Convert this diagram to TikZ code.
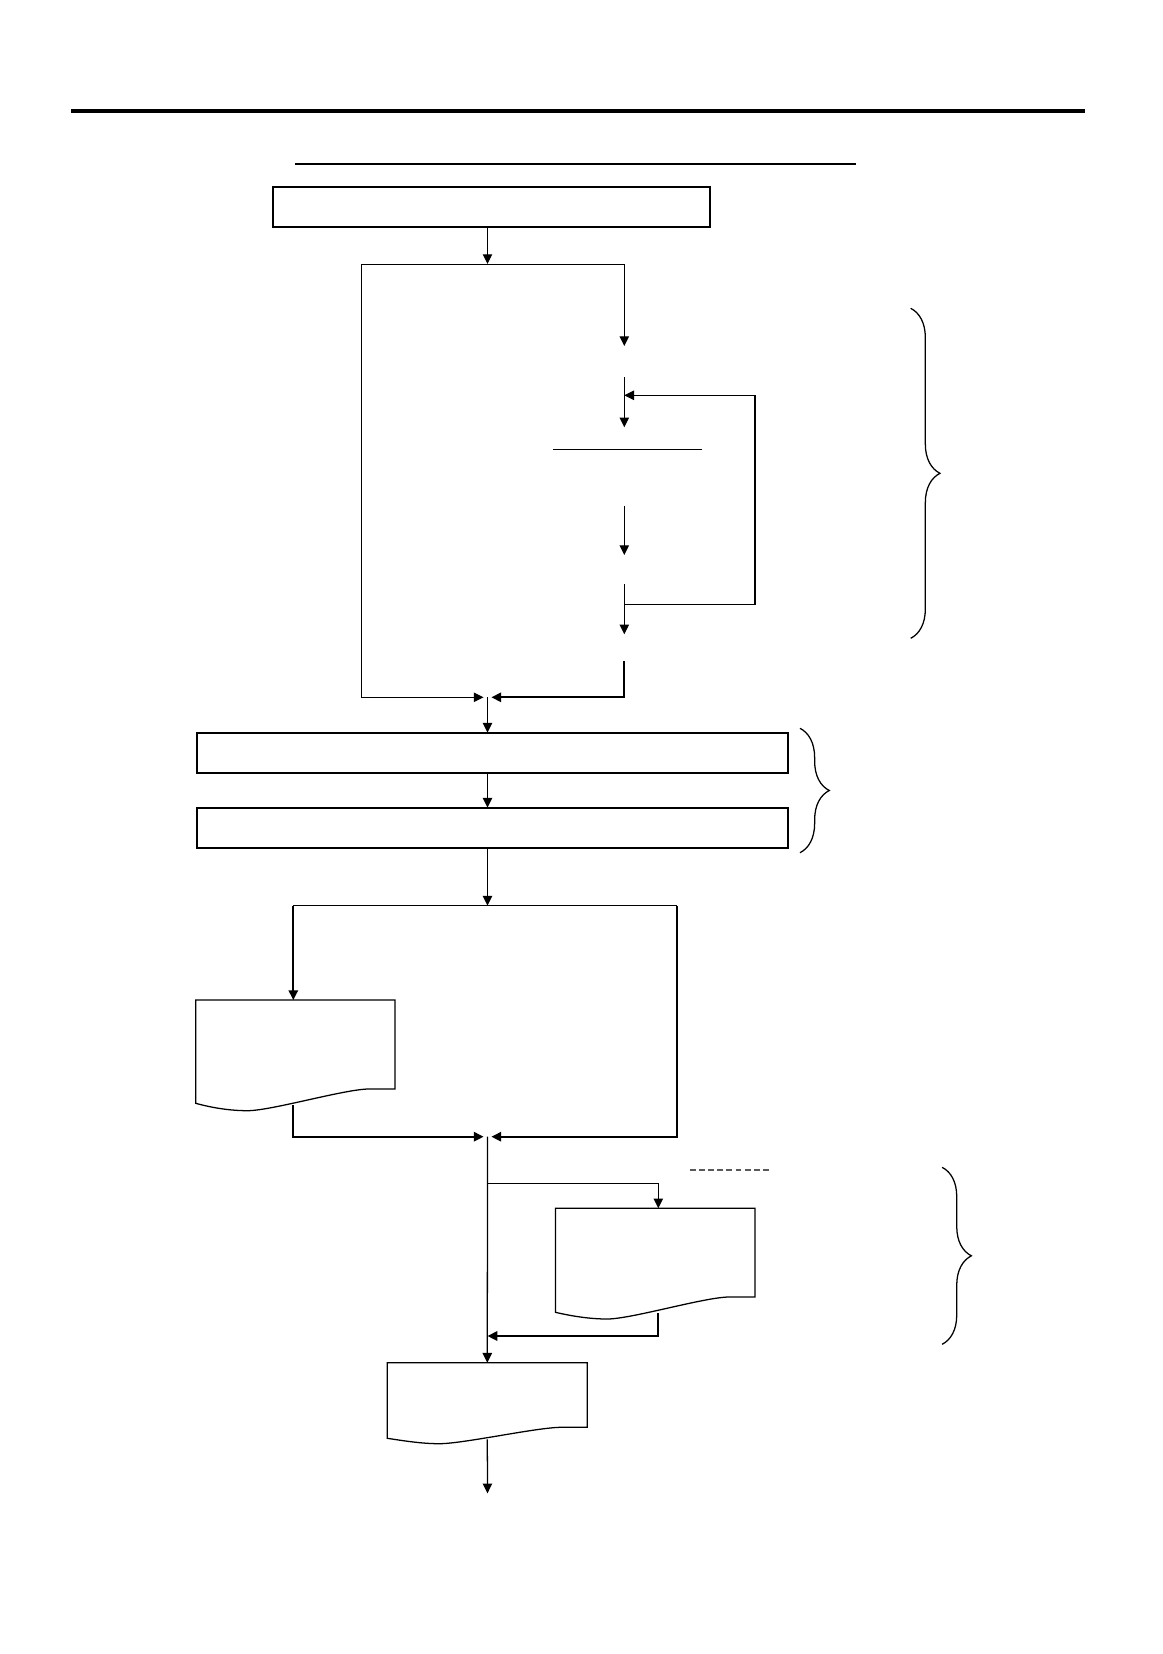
\documentclass[tikz,border=0pt]{standalone}
\usepackage{tikz}
\usetikzlibrary{positioning,arrows.meta,calc,decorations.pathreplacing}

% document symbol round a node: #1 node, #2 drop of the left corner, #3 lowest point of the wave
\newcommand{\docoutline}[3]{%
  \draw[line width=0.65pt] (#1.south east) -- (#1.north east) -- (#1.north west)
    -- ($(#1.south west)+(0,#2)$)
    .. controls ($(#1.south west)!0.08!(#1.south east)+(0,{#3-3})$) and ($(#1.south west)!0.17!(#1.south east)+(0,#3)$)
    .. ($(#1.south west)!0.26!(#1.south east)+(0,#3)$)
    .. controls ($(#1.south west)!0.38!(#1.south east)+(0,#3)$) and ($(#1.south west)!0.75!(#1.south east)$)
    .. ($(#1.south west)!0.87!(#1.south east)$) -- cycle;}

\begin{document}
\begin{tikzpicture}[
  x=0.018cm, y=-0.018cm,
  box/.style={draw, line width=0.8pt, inner sep=0pt, outer sep=0pt},
  doc/.style={inner sep=0pt, outer sep=0pt},
  arr/.style={-{Triangle[length=5pt,width=4.8pt]}, line width=0.65pt},
  arrT/.style={arr, line width=1pt},
  merge/.style={shorten >=2pt},
  brc/.style={decorate, decoration={brace, amplitude=15pt}, line width=0.65pt}
]
\useasboundingbox (0,0) rectangle (1162,1654);

% heading rules
\draw[line width=2pt] (71,110.7) -- (1085,110.7);
\draw[line width=1.1pt] (295,164) -- (856,164);

% boxes
\node[box, line width=1pt, minimum width=7.859cm, minimum height=0.72cm] (start) at (491.7,207.3) {};
\node[box, minimum width=10.643cm, minimum height=0.725cm] (stepone) at (492.65,752.85) {};
\node[box, minimum width=10.643cm, minimum height=0.725cm] (steptwo) at (492.65,827.85) {};
\node[doc, minimum width=3.587cm, minimum height=1.602cm] (docleft) at (295.35,1044.5) {};
\node[doc, minimum width=3.595cm, minimum height=1.597cm] (docside) at (655.25,1252.65) {};
\node[doc, minimum width=3.6cm, minimum height=1.163cm] (docout) at (487.3,1395) {};
\docoutline{docleft}{14.3}{21.7}
\docoutline{docside}{15.3}{22}
\docoutline{docout}{11}{16.4}

% junctions of the upper loop
\coordinate (split) at (487.5,264);
\coordinate (splitl) at (361.3,264);
\coordinate (splitr) at (624.3,264);
\coordinate (ina) at (624.3,346);
\coordinate (outb) at (624.3,377.3);
\coordinate (inb) at (624.3,427.3);
\coordinate (outc) at (624.3,505.7);
\coordinate (inc) at (624.3,555);
\coordinate (outd) at (624.3,584.3);
\coordinate (ind) at (624.3,634.3);
\coordinate (oute) at (624.3,661);
\coordinate (looptop) at (624.3,395.3);
\coordinate (loopbot) at (624.3,604.3);
\coordinate (loopx) at (755,500);
\coordinate (joinup) at (487.5,697.3);

\draw[arr] (start.south -| split) -- (split);
\draw (splitl) -- (splitr);
\draw[arr] (splitr) -- (ina);
\draw[arr] (outb) -- (inb);
\draw (553,449.3) -- (702,449.3);
\draw[arr] (outc) -- (inc);
\draw[arr] (outd) -- (ind);
\draw[arr] (loopbot) -| (loopx) |- (looptop);
\draw[arr, merge] (splitl) |- (joinup);
\draw[arrT, merge] (oute) |- (joinup);
\draw[brc] (910.7,308.3) -- (910.7,638.3);

% middle part
\draw[arr] (joinup) -- (stepone.north -| joinup);
\draw[arr] (stepone.south -| joinup) -- (steptwo.north -| joinup);
\draw[brc] (800,728.3) -- (800,852.7);

\coordinate (fork) at (487.5,905.7);
\coordinate (forkl) at (293.3,905.7);
\coordinate (forkr) at (677.3,905.7);
\coordinate (joindown) at (487.5,1136.7);
\draw[arr] (steptwo.south -| fork) -- (fork);
\draw (forkl) -- (forkr);
\draw[arrT] (forkl) -- (forkl |- docleft.north);
\draw[arrT, merge] ($(docleft.south -| forkl)+(0,16)$) |- (joindown);
\draw[arrT, merge] (forkr) |- (joindown);

% lower part
\coordinate (branch) at (487.5,1183.3);
\coordinate (sidex) at (658.3,1183.3);
\coordinate (back) at (487.5,1336);
\coordinate (finish) at (487.5,1493.3);
\draw[arr] (joindown) -- (docout.north);
\draw[arr] (branch) -- (sidex) -- (sidex |- docside.north);
\draw[arrT] ($(docside.south -| sidex)+(0,16)$) |- (back);
\draw[black!65, line width=0.8pt, dash pattern=on 3pt off 1.7pt] (689.7,1170) -- (771.6,1170);
\draw[brc] (942.1,1167.3) -- (942.1,1344.3);
\draw[arr] ($(docout.south)+(0,12)$) -- (finish);
\end{tikzpicture}
\end{document}
